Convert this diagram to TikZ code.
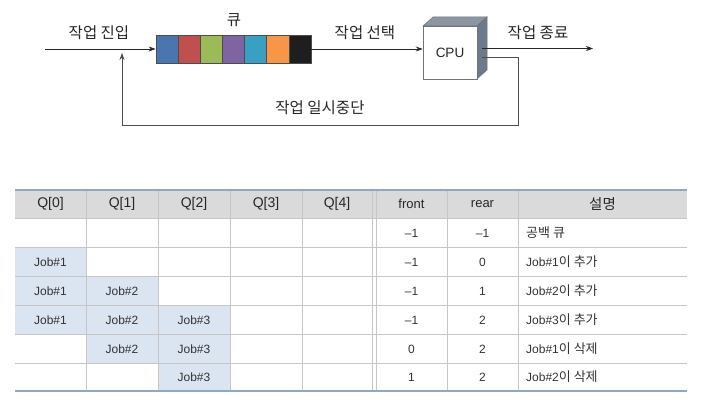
\documentclass[tikz,border=0pt]{standalone}
\usepackage{fontspec}
\setmainfont{Liberation Sans}
\newfontfamily\kr{Noto Sans CJK KR}
\usetikzlibrary{arrows.meta}
\definecolor{qblue}{HTML}{4A76B0}
\definecolor{qred}{HTML}{C0504D}
\definecolor{qgreen}{HTML}{9BBB59}
\definecolor{qpurple}{HTML}{7E64A0}
\definecolor{qteal}{HTML}{38A0C2}
\definecolor{qorange}{HTML}{F79646}
\definecolor{qblack}{HTML}{1E1E1E}
\definecolor{cputop}{HTML}{8C96A2}
\definecolor{cpuside}{HTML}{6C7A8C}
\definecolor{hdrfill}{HTML}{DADADA}
\definecolor{jobfill}{HTML}{DBE5F1}
\definecolor{gridc}{HTML}{C6C6C6}
\definecolor{rulec}{HTML}{8FA8C6}
\newcommand{\kt}[1]{{\kr\fontsize{13}{15}\selectfont #1}}
\begin{document}
\begin{tikzpicture}[x=1pt,y=-1pt,
  lbl/.style={font=\kr\fontsize{15.5}{17}\selectfont, inner sep=0pt, text=black!85},
  qcell/.style={draw=black!70, line width=0.6pt, minimum width=22.14pt, minimum height=28pt, inner sep=0pt},
  conn/.style={draw=black!85, line width=0.7pt},
  arr/.style={conn, -{Stealth[length=7pt,width=5pt]}},
  tt/.style={font=\fontsize{12}{14}\selectfont, inner sep=0pt, text=black!80},
  th/.style={font=\fontsize{14}{16}\selectfont, inner sep=0pt, text=black!85}
]
\useasboundingbox (0,0) rectangle (713,411);

% ---------- queue ----------
\foreach \c [count=\i from 0] in {qblue,qred,qgreen,qpurple,qteal,qorange,qblack}{
  \node[qcell, fill=\c] (q\i) at ({156+11.07+\i*22.14},49) {};
}
\node[draw=black!70, line width=0.8pt, minimum width=155pt, minimum height=28pt, inner sep=0pt] (queue) at (233.5,49) {};
\node[lbl] (qlabel) at (234,20) {큐};

% ---------- CPU ----------
\fill[cputop, draw=black!55, line width=0.5pt] (423,26) -- (433,17) -- (487,17) -- (477,26) -- cycle;
\fill[cpuside, draw=black!55, line width=0.5pt] (477,26) -- (487,17) -- (487,70) -- (477,79) -- cycle;
\node[draw=black!55, fill=white, line width=0.6pt, minimum width=54pt, minimum height=53pt, inner sep=0pt,
      font=\fontsize{13.5}{15}\selectfont, text=black!85] (cpu) at (450,52.5) {CPU};

% ---------- connectors ----------
\coordinate (inStart) at (45,49);
\coordinate (outStart) at (482,48.5);
\coordinate (outEnd) at (593,48.5);
\coordinate (fbStart) at (482,57.5);
\coordinate (fbC1) at (518,57.5);
\coordinate (fbC2) at (518,125);
\coordinate (fbC3) at (122,125);
\coordinate (fbEnd) at (122,53);

\draw[arr] (inStart) -- (queue.west);
\draw[arr] (queue.east) -- (cpu.west |- queue.east);
\draw[arr] (outStart) -- (outEnd);
\draw[arr, draw=black!70] (fbStart) -- (fbC1) -- (fbC2) -- (fbC3) -- (fbEnd);

\node[lbl] (l1) at (99,33) {작업 진입};
\node[lbl] (l2) at (365,33) {작업 선택};
\node[lbl] (l3) at (538,33) {작업 종료};
\node[lbl] (l4) at (320,108) {작업 일시중단};

% ---------- table ----------
\fill[hdrfill] (15,190) rectangle (687,218);
\fill[jobfill] (15,247) rectangle (86,334);
\fill[jobfill] (86,276) rectangle (158,363);
\fill[jobfill] (158,305) rectangle (230,391);
\foreach \y in {218,247,276,305,334,363}{
  \draw[gridc, line width=0.8pt] (15,\y) -- (687,\y);
}
\foreach \x in {86,158,230,302,372,376,447,518}{
  \draw[gridc, line width=0.8pt] (\x,190) -- (\x,391);
}
\draw[rulec, line width=1.3pt] (15,190) -- (687,190);
\draw[rulec, line width=1.3pt] (15,391) -- (687,391);

% header text
\node[th] (h0) at (50.5,204) {Q[0]};
\node[th] (h1) at (122,204) {Q[1]};
\node[th] (h2) at (194,204) {Q[2]};
\node[th] (h3) at (266,204) {Q[3]};
\node[th] (h4) at (337,204) {Q[4]};
\node[th, font=\fontsize{13}{15}\selectfont] (h5) at (411.5,204) {front};
\node[th, font=\fontsize{13}{15}\selectfont] (h6) at (482.5,204) {rear};
\node[th, font=\kr\fontsize{14.5}{16}\selectfont] (h7) at (602.5,204) {설명};

% row 1
\node[tt] (r1f) at (411.5,233) {–1};
\node[tt] (r1r) at (482.5,233) {–1};
\node[tt, anchor=west] (r1d) at (526,233) {\kt{공백 큐}};
% row 2
\node[tt] (r2a) at (50.5,262) {Job\#1};
\node[tt] (r2f) at (411.5,262) {–1};
\node[tt] (r2r) at (482.5,262) {0};
\node[tt, anchor=west] (r2d) at (526,262) {Job\#1\kt{이 추가}};
% row 3
\node[tt] (r3a) at (50.5,291) {Job\#1};
\node[tt] (r3b) at (122,291) {Job\#2};
\node[tt] (r3f) at (411.5,291) {–1};
\node[tt] (r3r) at (482.5,291) {1};
\node[tt, anchor=west] (r3d) at (526,291) {Job\#2\kt{이 추가}};
% row 4
\node[tt] (r4a) at (50.5,320) {Job\#1};
\node[tt] (r4b) at (122,320) {Job\#2};
\node[tt] (r4c) at (194,320) {Job\#3};
\node[tt] (r4f) at (411.5,320) {–1};
\node[tt] (r4r) at (482.5,320) {2};
\node[tt, anchor=west] (r4d) at (526,320) {Job\#3\kt{이 추가}};
% row 5
\node[tt] (r5b) at (122,349) {Job\#2};
\node[tt] (r5c) at (194,349) {Job\#3};
\node[tt] (r5f) at (411.5,349) {0};
\node[tt] (r5r) at (482.5,349) {2};
\node[tt, anchor=west] (r5d) at (526,349) {Job\#1\kt{이 삭제}};
% row 6
\node[tt] (r6c) at (194,377) {Job\#3};
\node[tt] (r6f) at (411.5,377) {1};
\node[tt] (r6r) at (482.5,377) {2};
\node[tt, anchor=west] (r6d) at (526,377) {Job\#2\kt{이 삭제}};
\end{tikzpicture}
\end{document}
